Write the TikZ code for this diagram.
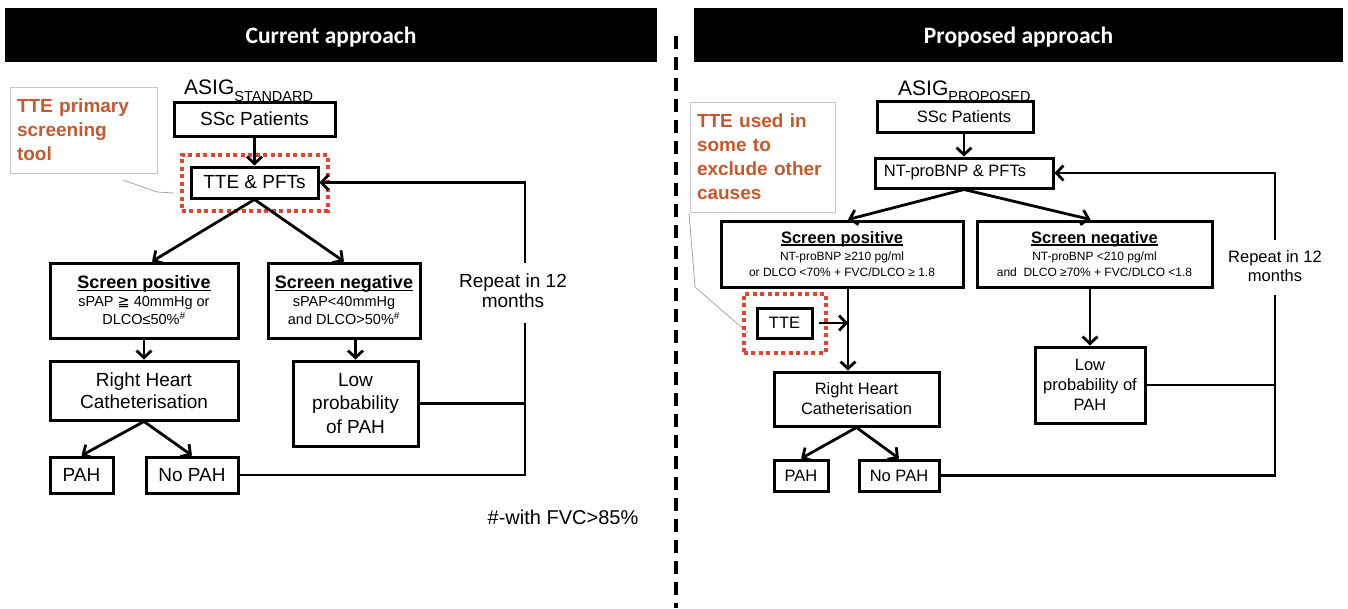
\documentclass[tikz,border=0pt]{standalone}
\usepackage{fontspec}
\setmainfont{Liberation Sans}
\newfontfamily\hdrfont{Carlito}
\newfontfamily\symfont{DejaVu Sans}
\usetikzlibrary{arrows.meta,fit,calc}

\definecolor{calloutc}{RGB}{196,89,46}
\definecolor{dotred}{RGB}{224,68,50}
\definecolor{calloutedge}{RGB}{200,200,200}
\definecolor{pointerc}{RGB}{165,165,165}

% text sizes (1pt = 1px of the final picture)
\newcommand{\szL}{\fontsize{19}{22}\selectfont}
\newcommand{\szLow}{\fontsize{19}{23.5}\selectfont}
\newcommand{\szRep}{\fontsize{19}{20}\selectfont}
\newcommand{\szR}{\fontsize{16.5}{20}\selectfont}
\newcommand{\szRepR}{\fontsize{16.5}{19}\selectfont}
\newcommand{\dsz}{\fontsize{14.5}{18}\selectfont}
\newcommand{\dszR}{\fontsize{12}{16}\selectfont}
\newcommand{\szT}{\bfseries\fontsize{18}{18}\selectfont}
\newcommand{\szTR}{\bfseries\fontsize{16.5}{16}\selectfont}
\newcommand{\subsz}{\fontsize{14.5}{14.5}\selectfont}
% underline drawn just under the baseline
\newcommand{\titleline}[1]{\setbox0\hbox{#1}\rlap{\rule[-2.4pt]{\wd0}{1.4pt}}\box0}

\tikzset{
  flowbox/.style 2 args={draw, line width=3pt, inner sep=0pt, align=center,
    minimum width=#1, minimum height=#2},
  flowline/.style={line width=2.8pt},
  flowarrow/.style={line width=2.8pt, -{Straight Barb[length=7pt,width=15pt]}},
  hdrbox/.style={fill=black, text=white, inner sep=0pt, text depth=0pt,
    font=\hdrfont\bfseries\fontsize{23.5}{23.5}\selectfont},
  asig/.style={anchor=base west, inner sep=0pt, font=\fontsize{21}{21}\selectfont},
  calloutbox/.style={draw=calloutedge, line width=0.8pt, inner xsep=7pt, inner ysep=0pt,
    align=left, text=calloutc, font=\bfseries\fontsize{19}{24}\selectfont},
  pointerline/.style={draw=pointerc, line width=0.8pt},
  reddot/.style={draw=dotred, line width=4pt, dash pattern=on 4pt off 3.5pt},
  plain/.style={inner sep=0pt, align=center},
  sepline/.style={line width=3.5pt, dash pattern=on 13pt off 8pt}
}

\begin{document}
\begin{tikzpicture}[x=1pt,y=-1pt]
\useasboundingbox (0,0) rectangle (1348,608);

% ---------------- current approach ----------------
\node[hdrbox, minimum width=652, minimum height=54] (hdrL) at (331,35) {Current approach};
\node[asig] (asigL) at (184,94) {ASIG\raisebox{-7pt}{\subsz STANDARD}};

\node[calloutbox, minimum height=86, text width=133] (noteL) at (83.5,130)
  {TTE primary\\screening\\tool};
\draw[pointerline] (123,180) -- (157,192) -- (174,193);

\node[flowbox={161}{34}, font=\szL] (sscL) at (254.5,119) {SSc Patients};
\node[flowbox={127}{31}, font=\szL] (tteL) at (254.5,182.5) {TTE \& PFTs};
\node[reddot, fit=(tteL), inner xsep=8, inner ysep=11] (dotL) {};

\node[flowbox={188}{75}, font=\dsz] (posL) at (144,300.5)
  {{\szT\titleline{Screen positive}}\\sPAP {\symfont ≧} 40mmHg or\\DLCO≤50\%\textsuperscript{\#}};
\node[flowbox={152}{75}, font=\dsz] (negL) at (344,300.5)
  {{\szT\titleline{Screen negative}}\\sPAP<40mmHg\\and DLCO>50\%\textsuperscript{\#}};

\node[flowbox={188}{59}, font=\szL] (rhcL) at (144,390.5) {Right Heart\\Catheterisation};
\node[flowbox={125}{85}, font=\szLow] (lowL) at (355.5,403.5) {Low\\probability\\of PAH};
\node[flowbox={63}{36}, font=\szL] (pahL) at (81.5,475) {PAH};
\node[flowbox={92}{36}, font=\szL] (nopahL) at (192,475) {No PAH};

\node[plain, font=\szRep] (repL) at (513,291) {Repeat in 12\\months};
\node[plain, font=\fontsize{20}{20}\selectfont] (fnL) at (563,517) {\#-with FVC>85\%};

\coordinate (jL1) at (525,263);
\coordinate (jL2) at (525,323);

\draw[flowarrow] (sscL.south) -- (tteL.north);
\draw[flowarrow] (tteL.south) -- ([xshift=8pt]posL.north);
\draw[flowarrow] (tteL.south) -- (negL.north);
\draw[flowarrow] (posL.south) -- (rhcL.north);
\draw[flowarrow] (negL.south -| lowL.north) -- (lowL.north);
\draw[flowarrow] (rhcL.south) -- (pahL.north);
\draw[flowarrow] (rhcL.south) -- (nopahL.north);
\draw[flowarrow] (jL1) |- (tteL.east);
\draw[flowline] (lowL.east) -- (lowL.east -| jL2);
\draw[flowline] (nopahL.east) -| (jL2);

% ---------------- separator ----------------
\draw[sepline] (676,36) -- (676,608);

% ---------------- proposed approach ----------------
\node[hdrbox, minimum width=649, minimum height=54] (hdrR) at (1018.5,35) {Proposed approach};
\node[asig] (asigR) at (898,95) {ASIG\raisebox{-6pt}{\subsz PROPOSED}};

\node[calloutbox, minimum height=110, text width=131] (noteR) at (762.5,157)
  {TTE used in\\some to\\exclude other\\causes};
\draw[pointerline] (689,213) -- (695,287) -- (748,333);

\node[flowbox={156}{31}, font=\szR] (sscR) at (955,116.5) {\hspace*{18pt}SSc Patients};
\node[flowbox={178}{30}, font=\szR] (ntR) at (964,173) {NT-proBNP \& PFTs\hspace*{18pt}};

\node[flowbox={242}{66}, font=\dszR] (posR) at (842,254)
  {{\szTR\titleline{Screen positive}}\\[1pt]NT-proBNP ≥210 pg/ml\\or DLCO <70\% + FVC/DLCO ≥ 1.8};
\node[flowbox={235}{66}, font=\dszR] (negR) at (1094.5,254)
  {{\szTR\titleline{Screen negative}}\\[1pt]NT-proBNP <210 pg/ml\\and\ \ DLCO ≥70\% + FVC/DLCO <1.8};

\node[flowbox={55}{30}, font=\szR] (tteR) at (784.5,323) {TTE};
\node[reddot, fit=(tteR), inner xsep=12, inner ysep=13] (dotR) {};

\node[flowbox={165}{54}, font=\szR] (rhcR) at (856.5,399) {Right Heart\\Catheterisation};
\node[flowbox={54}{31}, font=\szR] (pahR) at (801,475.5) {PAH};
\node[flowbox={80}{31}, font=\szR] (nopahR) at (899,475.5) {No PAH};
\node[flowbox={110}{76}, font=\szR] (lowR) at (1090,385) {Low\\probability of\\PAH};

\node[plain, font=\szRepR] (repR) at (1275,266) {Repeat in 12\\months};

\coordinate (spineR) at (848,287);
\coordinate (jR1) at (1275,240);
\coordinate (jR2) at (1275,295);

\draw[flowarrow] (ntR.north |- sscR.south) -- (ntR.north);
\draw[flowarrow] (ntR.south) -- (spineR |- posR.north);
\draw[flowarrow] (ntR.south) -- ([xshift=-4pt]negR.north);
\draw[flowarrow] (spineR) -- (spineR |- rhcR.north);
\draw[flowarrow] ([xshift=5pt]tteR.east) -- (tteR.east -| spineR);
\draw[flowarrow] (negR.south -| lowR.north) -- (lowR.north);
\draw[flowarrow] (rhcR.south) -- (pahR.north);
\draw[flowarrow] (rhcR.south) -- (nopahR.north);
\draw[flowarrow] (jR1) |- (ntR.east);
\draw[flowline] (lowR.east) -- (lowR.east -| jR2);
\draw[flowline] (nopahR.east) -| (jR2);

\end{tikzpicture}
\end{document}
